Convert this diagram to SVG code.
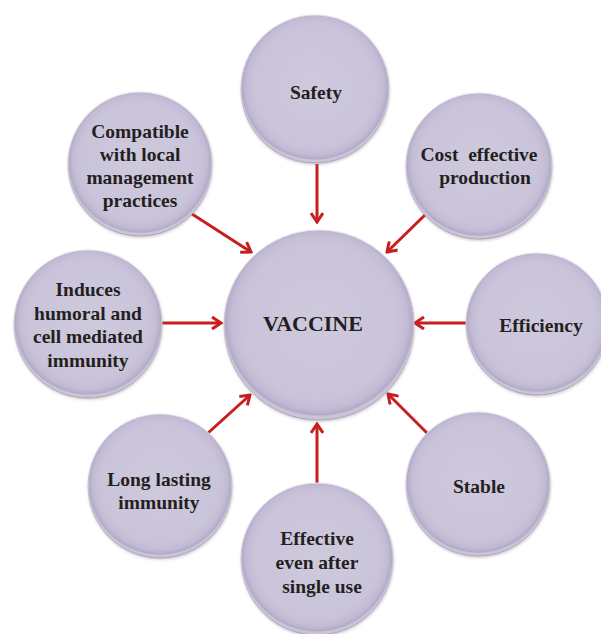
<svg xmlns="http://www.w3.org/2000/svg" width="601" height="634" viewBox="0 0 601 634">
  <defs>
    <radialGradient id="sphere" cx="50%" cy="48%" r="50%">
      <stop offset="0%" stop-color="#cfc9de"/>
      <stop offset="82%" stop-color="#cac4da"/>
      <stop offset="93%" stop-color="#c3bbd5"/>
      <stop offset="98.5%" stop-color="#b3aac8"/>
      <stop offset="100%" stop-color="#c9c4d6"/>
    </radialGradient>
    <linearGradient id="rim" x1="0" y1="0" x2="0" y2="1">
      <stop offset="0%" stop-color="#e6e4ec"/>
      <stop offset="100%" stop-color="#a9a5b6"/>
    </linearGradient>
    <filter id="shade" x="-20%" y="-20%" width="140%" height="140%">
      <feDropShadow dx="0.5" dy="1.5" stdDeviation="1.2" flood-color="#7a7590" flood-opacity="0.35"/>
    </filter>
    <marker id="head" viewBox="0 0 12 14" refX="10" refY="7" markerWidth="12" markerHeight="14" markerUnits="userSpaceOnUse" orient="auto">
      <path d="M1,1 L10,7 L1,13" fill="none" stroke="#c81e1e" stroke-width="3"/>
    </marker>
  </defs>
  <style>
    .ball { fill: url(#sphere); stroke: url(#rim); stroke-width: 1; filter: url(#shade); }
    .lbl { font-family: "Liberation Serif", "Times New Roman", serif; font-weight: bold; font-size: 19.5px; fill: #231f20; text-anchor: middle; }
    .hub { font-size: 22px; }
    .link { stroke: #c81e1e; stroke-width: 3; fill: none; marker-end: url(#head); }
  </style>
  <rect width="601" height="634" fill="#ffffff"/>

  <g id="connectors">
    <line class="link" x1="317" y1="164" x2="317" y2="222"/>
    <line class="link" x1="427" y1="213" x2="387" y2="252"/>
    <line class="link" x1="466" y1="323" x2="415" y2="323"/>
    <line class="link" x1="427" y1="433" x2="388" y2="394"/>
    <line class="link" x1="317" y1="485" x2="317" y2="424"/>
    <line class="link" x1="208" y1="433" x2="250" y2="395"/>
    <line class="link" x1="162" y1="323" x2="221" y2="323"/>
    <line class="link" x1="192" y1="214" x2="251" y2="252"/>
  </g>

  <g id="vaccine">
    <circle class="ball" cx="319" cy="325" r="95"/>
    <text class="lbl hub" x="313" y="331">VACCINE</text>
  </g>

  <g id="safety">
    <circle class="ball" cx="315" cy="89" r="74"/>
    <text class="lbl" x="316" y="99">Safety</text>
  </g>

  <g id="cost-effective">
    <circle class="ball" cx="479" cy="166" r="73"/>
    <text class="lbl" x="479" y="161" xml:space="preserve">Cost  effective</text>
    <text class="lbl" x="485" y="184">production</text>
  </g>

  <g id="efficiency">
    <circle class="ball" cx="537" cy="324" r="71"/>
    <text class="lbl" x="541" y="332">Efficiency</text>
  </g>

  <g id="stable">
    <circle class="ball" cx="478" cy="484" r="72"/>
    <text class="lbl" x="479" y="493">Stable</text>
  </g>

  <g id="single-use">
    <circle class="ball" cx="317" cy="559" r="76"/>
    <text class="lbl" x="317" y="545">Effective</text>
    <text class="lbl" x="317" y="569">even after</text>
    <text class="lbl" x="322" y="593">single use</text>
  </g>

  <g id="long-lasting">
    <circle class="ball" cx="160" cy="486" r="72"/>
    <text class="lbl" x="159" y="486">Long lasting</text>
    <text class="lbl" x="159" y="509">immunity</text>
  </g>

  <g id="humoral">
    <circle class="ball" cx="88" cy="324" r="74"/>
    <text class="lbl" x="88" y="296">Induces</text>
    <text class="lbl" x="88" y="320">humoral and</text>
    <text class="lbl" x="88" y="343">cell mediated</text>
    <text class="lbl" x="88" y="367">immunity</text>
  </g>

  <g id="compatible">
    <circle class="ball" cx="140" cy="164" r="72"/>
    <text class="lbl" x="140" y="138">Compatible</text>
    <text class="lbl" x="140" y="161">with local</text>
    <text class="lbl" x="140" y="184">management</text>
    <text class="lbl" x="140" y="207">practices</text>
  </g>
</svg>
